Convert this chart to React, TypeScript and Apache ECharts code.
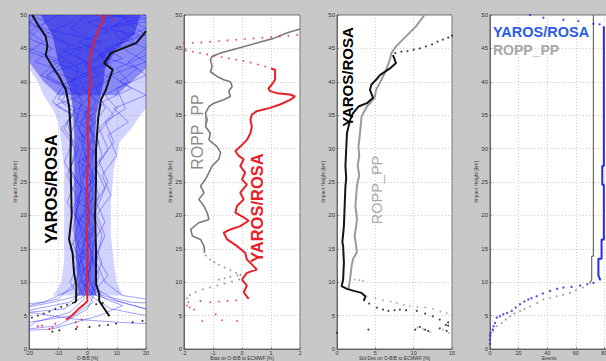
import React, { useEffect, useRef } from "react";
import * as echarts from "echarts";

// ---------- Panel 1: O-B/B [%] ----------
const p1MeanRed = [[6,50],[5.1,49],[3.4,47.3],[1.7,45.3],[0.9,43.5],[0.6,42.3],[1.1,39.8],[0.4,38.5],[0.6,37.3],[0.2,35],[0,32.3],[0.3,30],[0.2,28],[-0.2,25],[0,22.4],[0.2,20],[-0.3,17.4],[0.1,14],[-0.2,12],[0,10],[-0.2,8.5],[0,7.2],[-1.1,6.7],[-3.3,5.9],[-5.6,4.9],[-7.3,4.4]];
const p1RedDots = [[3,50],[4.5,49.8],[7,49.9],[8.6,49.4],[-15.5,3.5],[-12,3.2],[-11,3.8],[-13,3.0],[-17,3.4],[-4,4],[-2,4.4],[-3.5,3.3],[-1.5,6.5],[-2.5,6.2]];
const p1BlackLeft = [[-18.9,50],[-16.6,48.3],[-14.3,46.8],[-13.7,45.3],[-14.3,44],[-12,42.3],[-9.7,40.8],[-7.4,38.8],[-6.3,36.3],[-5.7,32.3],[-5.8,28],[-5.6,24],[-5.4,20],[-6.3,16.4],[-5.1,14.4],[-4.6,11.4],[-3.8,9.5],[-3.9,7.2],[-4.5,6.9]];
const p1BlackRight = [[20,47.6],[18,46.5],[16.6,45.8],[12,45],[8,44.3],[5.7,42.8],[8.6,41.8],[7.4,40.3],[6.3,38.8],[4.6,37.3],[3.7,34.8],[2.9,29.9],[2.9,24.9],[2.6,19.9],[2.9,14.9],[2.9,10.9],[3,9.7],[4,8.2],[4,7.2],[5.2,6.4],[7.5,4.9]];
const p1BlackDots = [[-5,6.9],[-7,6.6],[-9,6.3],[-11,6.0],[-13,5.6],[-15,5.3],[-17,5.0],[-19,4.7],[-9.6,2.8],[-3.9,3.0],[0.7,3.3],[4.1,3.5],[9.8,3.8],[15.4,4.0],[18.8,4.2],[3,6.7],[5.2,6.9],[-12,2.6],[7,3.6]];
const p1OuterBand = [[-20,50],[-20,42],[-17,40],[-15,38],[-12,36],[-10,34],[-9,31],[-8,27],[-8,22],[-8,17],[-8,13],[-9,10],[-11,8.5],[-12,8],[12,8],[10,10],[9,13],[8,17],[8,22],[9,27],[11,31],[15,33],[18,35],[20,36],[20,50]];
const p1TopBand = [[-20,50],[-20,43],[-15,40],[-10,38],[10,38],[15,40],[20,42],[20,50]];
const p1InnerBand = [[-16,50],[-12,47],[-11,45],[-10,43],[-8,41],[-6,39],[-5,36],[-4.5,32],[-4.5,25],[-4.5,18],[-4,14],[-3.5,10],[-3,8],[3,8],[3,10],[2.5,14],[2.3,20],[2.5,25],[2.5,30],[3,35],[4,37],[5.5,40],[6,42],[10,45],[16,47],[18,50]];
const blueProfiles = [
  [[-20,49],[-12,47],[-6,45.5],[-10,44],[-3,42],[-5,40],[-2,37],[-4,34],[-1,31],[-3,28],[-2,24],[-4,20],[-1,16],[-3,12],[-1,9],[-6,7],[-20,5.8]],
  [[15,50],[8,48],[12,46],[4,44],[9,42],[3,39],[6,36],[1,33],[3,30],[0,27],[2,23],[-1,19],[2,15],[0,11],[3,8],[20,6]],
  [[-20,45],[-8,43],[-14,41],[-6,39],[-9,37],[-3,35],[-6,32],[-4,29],[-7,26],[-3,22],[-5,18],[-2,14],[-4,10],[-10,7.5],[-20,6.5]],
  [[20,44],[10,42],[14,40],[6,38],[10,36],[4,33],[7,30],[3,27],[6,24],[2,20],[5,17],[3,13],[6,10],[12,8],[20,7.5]],
  [[-18,50],[-20,48.5],[-5,47],[5,46],[-8,44.5],[0,43],[-12,41.5],[-2,40],[-7,38],[0,36],[-3,33],[1,30],[-2,27],[1,24],[-1,21],[1,18],[-2,15],[1,12],[-1,9],[2,7],[-5,5],[-20,4]],
  [[20,49],[5,48],[18,47],[10,45.5],[20,43],[8,41],[15,39],[5,37],[9,35],[3,32],[5,29],[1,26],[4,23],[0,20],[3,17],[1,14],[4,11],[1,8],[8,6],[20,5]],
  [[-10,50],[-20,47.5],[-15,46],[-20,44.5],[-10,43],[-16,41],[-8,39.5],[-12,37],[-5,35],[-8,33],[-3,30],[-6,27],[-2,24],[-5,21],[-2,18],[-6,15],[-2,12],[-5,9],[-15,7],[-20,6.8]],
  [[10,50],[20,48],[12,46.5],[20,45],[14,43],[20,41],[10,39],[13,36],[6,34],[9,31],[4,28],[7,25],[3,22],[6,19],[2,16],[5,13],[2,10],[5,8],[15,7],[20,6.9]],
  [[0,50],[-6,48],[3,46],[-4,44],[2,42],[-6,40],[1,38],[-3,36],[2,34],[-2,31],[0,28],[-2,25],[1,22],[-3,19],[1,16],[-2,13],[0,10],[-1,8],[-8,6],[-20,5.5],[-5,4.5],[10,4],[20,3.8]],
  [[20,50],[13,49],[20,47],[6,45],[12,43.5],[2,42],[8,40.5],[0,38.5],[5,36.5],[-1,34],[4,31],[0,28],[3,25],[-1,22],[3,19],[0,16],[2,13],[-1,10],[2,8],[0,6],[-10,3.5],[-20,3]],
  [[-20,50],[-14,49],[-20,46.5],[-12,45],[-18,43],[-11,42],[-14,40.5],[-7,39],[-10,37.5],[-4,36],[-7,34],[-5,31],[-8,28],[-4,25],[-7,22],[-3,19],[-5,16],[-3,13],[-6,10],[-3,8],[-12,7],[-20,6.3]],
  [[5,50],[20,49.5],[9,48.5],[16,46],[4,44],[17,42],[11,40],[20,38],[9,36],[14,34],[7,32],[10,29],[5,26],[8,23],[3,20],[6,17],[3,14],[7,11],[3,9],[10,7.2],[20,6]],
  [[-5,49],[-15,47],[-2,45],[-12,43],[0,41],[-9,39.5],[-2,38],[-11,36.5],[-5,35],[-9,33],[-4,30],[-6,27],[-2,24],[-4,21],[-1,18],[-4,15],[-1,12],[-3,9.5],[-1,7.5],[-6,5.5],[-18,4],[-20,3.3]],
  [[12,50],[0,49],[7,47.5],[-3,46],[6,44],[-1,42.5],[4,41],[-2,39.5],[3,37],[-1,35],[2,32],[-1,29],[2,26],[-1,23],[1,20],[-1,17],[2,14],[0,11],[2,9],[6,7.5],[12,6.5],[4,5],[-12,3],[-20,2.8]],
  [[-2,36],[1,35],[-3,34],[0,33],[-2,32],[2,31],[-1,30],[1,29],[-3,28],[0,27],[-2,26],[2,25],[-1,24],[1,23],[-3,22],[0,21],[-2,20],[1,19],[-1,18],[2,17],[-2,16],[0,15],[-3,14],[1,13],[-1,12],[1,11],[-2,10],[0,9]],
  [[3,36],[-1,35.5],[2,34.5],[-2,33.5],[1,32.5],[-3,31.5],[0,30.5],[2,29.5],[-2,28.5],[1,27.5],[-1,26.5],[3,25.5],[0,24.5],[-2,23.5],[2,22.5],[-1,21.5],[1,20.5],[-3,19.5],[0,18.5],[2,17.5],[-1,16.5],[1,15.5],[-2,14.5],[2,13.5],[0,12.5],[-2,11.5],[1,10.5],[-1,9.5],[1,8.5]],
];

// ---------- Panel 2: Bias ----------
const p2GrayBias = [[2,47.9],[1.54,47.3],[1.09,46.5],[0.51,45.8],[-0.17,45],[-0.74,44.3],[-1.03,43.8],[-1.09,43.3],[-1.03,42.3],[-1.09,41.5],[-0.86,40.8],[-0.63,40.3],[-0.4,40],[-0.34,39.3],[-0.46,38.6],[-0.4,37.8],[-0.63,37.3],[-0.97,36.8],[-1.14,36.3],[-1.26,35.3],[-1.2,34.3],[-1.26,33.3],[-1.09,32.3],[-1.14,31.3],[-0.86,30.3],[-0.74,29.4],[-0.8,28.4],[-1.03,27.4],[-1.14,26.4],[-1.26,25.4],[-1.43,24.4],[-1.31,23.4],[-1.49,22.4],[-1.31,21.4],[-1.2,20.4],[-1.14,19.4],[-1.49,18.9],[-1.77,17.9],[-1.71,16.9],[-1.43,16.4],[-1.31,15.4],[-1.29,14.4]];
const p2GrayDots = [[-1.25,14],[-1.1,13.4],[-0.95,13],[-0.8,12.6],[-0.6,12.2],[-0.4,11.8],[-0.2,11.4],[-0.05,11.1],[-0.1,10.4],[-0.35,10.1],[-0.6,9.8],[-0.85,9.5],[-1.1,9.2],[-1.35,8.9],[-1.6,8.5],[-1.8,8.1],[-1.9,7.6],[-0.15,11],[-0.4,10.8],[-0.6,10.6],[-0.8,10.4]];
const p2RedBias = [[1.0,42.0],[1.14,41.8],[1.14,40.3],[1.03,39.6],[0.91,39],[0.97,38.6],[1.2,38.3],[1.66,38.1],[1.83,37.8],[1.66,37.3],[1.31,36.6],[0.97,36.1],[0.51,35.6],[0.34,35.1],[0.29,34.3],[0.34,33.3],[0.29,32.3],[0.17,31.3],[-0.06,30.3],[-0.23,29.6],[-0.11,28.9],[0.06,28.4],[-0.06,27.4],[0.11,26.4],[0,25.4],[0.17,24.6],[-0.06,23.4],[0.06,22.4],[-0.17,21.4],[-0.23,20.4],[0.06,19.7],[0.23,19.2],[-0.06,18.4],[-0.4,17.9],[-0.63,17.4],[-0.51,16.4],[-0.17,15.4],[0.11,14.4],[0.17,13.4],[0.4,12.4],[0.51,11.9],[0.17,11.4],[0,10.4],[0.17,9.5],[0.06,8.5],[0.23,7.5]];
const p2RedDots = [[-2,45.8],[-1.7,45.85],[-1.4,45.9],[-1.1,46.0],[-0.8,46.1],[-0.5,46.2],[-0.2,46.3],[0.1,46.4],[0.4,46.5],[0.7,46.6],[1.0,46.7],[1.3,46.8],[1.6,46.9],[1.9,47.0],[-1.94,44.7],[-1.7,44.5],[-1.45,44.3],[-1.2,44.1],[-0.95,43.9],[-0.7,43.7],[-0.45,43.5],[-0.2,43.3],[0.05,43.1],[0.3,42.9],[0.55,42.6],[0.8,42.3],[-1.85,7.0],[-1.43,7.2],[-1.1,7.0],[-0.8,7.1],[-0.5,7.2],[-0.2,7.3],[-1.9,6.5],[-1.8,6.2],[-1.65,5.9],[-0.91,5.2],[-1.37,4.2],[-0.69,4.3],[-0.17,4.2]];

// ---------- Panel 3: Std Dev ----------
const p3GrayStd = [[11.4,50],[10.3,48.3],[9,46.8],[7.7,45.3],[7.1,44.3],[6.9,43.3],[6.3,41.5],[5.8,40.3],[5.1,38.8],[4.9,37.6],[3.9,36.3],[3.2,34.8],[3,32.3],[2.8,30.3],[2.9,29],[2.7,27.4],[2.9,26],[2.6,24.4],[2.4,21.4],[2.6,19.5],[2.5,18.4],[2.3,17],[2.6,14.5],[2.1,13.5],[1.9,12.4],[1.7,10.4],[1.5,9]];
const p3BlackStd = [[7.3,44],[7.7,42.8],[6.9,42],[5.6,41],[5.1,40.3],[4.5,39.6],[4.3,38.8],[4.7,37.6],[3.9,36.8],[2.8,36.3],[2.1,35.3],[1.7,34.3],[1.3,32.3],[1.2,29.9],[1.1,27.4],[1.2,25.5],[1.1,24.4],[1,21.4],[0.9,18.4],[0.7,16],[0.8,15.4],[0.9,12.9],[0.8,10.4],[0.6,9.4],[1.3,9.0],[2.2,8.7],[3.2,8.4],[3.7,7.9],[3.5,7.2]];
const p3BlackDots = [[7.6,44.3],[8.4,44.5],[9.2,44.6],[10,44.8],[10.8,45],[11.6,45.3],[12.4,45.6],[13.1,46],[13.8,46.3],[14.5,46.6],[15,46.9],[4.2,6.8],[5.2,6.2],[6,5.9],[6.7,5.7],[7.5,5.8],[8.2,5.9],[9,5.8],[10.4,5.7],[11.5,5.3],[12.5,4.9],[13.4,4.4],[14.5,4.0],[0,2.4],[4.1,2.9],[10.2,2.9],[10.8,3.3],[11.5,2.9],[11.9,2.7],[13.4,3.1],[14.3,2.7],[14.5,3.5],[14.2,3.6]];
const p3GrayDots = [[3.9,7.9],[5,7.6],[6,7.3],[7,7.1],[7.8,6.9],[8.7,6.6],[9.5,6.4],[10.5,6.3],[11.5,6.2],[12.5,6.0],[13.5,5.6],[14.3,5.4],[15,5.2],[1.7,10.5],[2.3,10.4],[2.9,10.3],[3.4,10.2],[10.5,3.2],[11.2,3.0],[12.2,2.5],[13.8,2.9],[14.6,2.4]];

// ---------- Panel 4: Events ----------
const p4GrayStep = [[72.3,50],[72.3,13.9],[71.1,13.9],[71.1,10.4],[70,9.9]];
const p4GrayDots = [[70,9.9],[65,9.2],[60,8.8],[56,8.4],[51,8.1],[46.6,7.9],[42,7.6],[37.3,7.4],[33,6.9],[28,6.4],[24,6.0],[21,5.7],[17,5.3],[14,4.9],[11,4.4],[8.2,3.9],[4.7,3.4],[2.3,2.7],[0.5,1.9],[0,1.2],[0,0.5]];
const p4BlueStep = [[79.6,48.3],[79.6,27.4],[78.5,27.4],[78.5,24.6],[79.6,24.6],[79.6,16.4],[78,16.4],[78,13.5],[75.8,13.5],[75.8,11],[77,10.4]];
const p4BlueDots = [[77,10.4],[72.3,9.9],[68,9.7],[63,9.5],[57,9.3],[51.3,9.2],[47,9.0],[42,8.7],[37,8.3],[32.6,7.9],[29,7.6],[26.8,7.4],[24,7.1],[21,6.7],[18,6.2],[15.2,5.7],[12,5.4],[9.3,5.2],[7,4.9],[4.7,4.7],[3.5,3.9],[2.5,3.4],[1.9,2.9],[0.5,2.4],[0,2.0],[0,1.4],[0,0.8]];
const p4BlueTopDots = [[28,50],[37.3,49.6],[51.3,49.3],[61.8,49.1],[72.3,48.7],[76.6,48.6]];

const xAxisNames = ["O-B/B [%]", "Bias on O-B/B to ECMWF [%]", "Std Dev on O-B/B to ECMWF [%]", "Events"];
const xMins = [-20, -2, 0, 0];
const xMaxs = [20, 2, 15, 82.5];
const xIntervals = [10, 1, 5, 20];
const yTicks = [0, 50, 5];

const FONT = "'Liberation Sans', Arial, sans-serif";

export default function App() {
  const ref = useRef<HTMLDivElement>(null);
  useEffect(() => {
    if (!ref.current) return;
    const chart = echarts.init(ref.current, null, { renderer: "svg" });
    const grids = [
      { left: 29, top: 15, width: 117, height: 334 },
      { left: 184, top: 15, width: 116, height: 334 },
      { left: 337, top: 15, width: 115, height: 334 },
      { left: 490, top: 15, width: 118, height: 334 },
    ].map((g) => ({ ...g, show: true, backgroundColor: "#ffffff", borderColor: "#505050", borderWidth: 0.8, containLabel: false, outerBoundsMode: "none" }));

    const xAxis = xAxisNames.map((name, i) => ({
      type: "value", gridIndex: i, min: xMins[i], max: xMaxs[i], interval: xIntervals[i],
      name, nameLocation: "middle", nameGap: 7, nameMoveOverlap: false,
      nameTextStyle: { fontSize: 4.8, color: "#333", fontFamily: FONT, verticalAlign: "top" },
      axisLine: { show: true, onZero: false, lineStyle: { color: "#505050", width: 0.8 } },
      axisTick: { show: true, inside: true, length: 2, lineStyle: { color: "#505050", width: 0.6 } },
      axisLabel: { fontSize: 5.5, color: "#333", margin: 0.8, fontFamily: FONT, showMaxLabel: i !== 3 },
      splitLine: { show: true, lineStyle: { color: "#b8b8b8", width: 0.7, type: [1, 2] } },
    }));
    const yAxis = [0, 1, 2, 3].map((i) => ({
      type: "value", gridIndex: i, min: yTicks[0], max: yTicks[1], interval: yTicks[2],
      name: "Impact Height [km]", nameLocation: "middle", nameGap: 12, nameMoveOverlap: false,
      nameTextStyle: { fontSize: 5, color: "#444", fontFamily: FONT },
      axisLine: { show: true, onZero: false, lineStyle: { color: "#505050", width: 0.8 } },
      axisTick: { show: true, inside: true, length: 2, lineStyle: { color: "#505050", width: 0.6 } },
      axisLabel: { fontSize: 6, color: "#333", margin: 2, fontFamily: FONT },
      splitLine: { show: true, lineStyle: { color: "#b8b8b8", width: 0.7, type: [1, 2] } },
    }));

    const line = (data: number[][], ai: number, color: string, width: number, z = 3) => ({
      type: "line", xAxisIndex: ai, yAxisIndex: ai, data, showSymbol: false, symbol: "none",
      lineStyle: { color, width }, z, silent: true,
    });
    const dots = (data: number[][], ai: number, color: string, size: number, z = 4) => ({
      type: "scatter", xAxisIndex: ai, yAxisIndex: ai, data, symbol: "circle", symbolSize: size,
      itemStyle: { color }, z, silent: true,
    });
    const band = (pts: number[][], ai: number, fill: string, z: number) => ({
      type: "custom", xAxisIndex: ai, yAxisIndex: ai, data: [[0, 0]], clip: true, silent: true, z,
      renderItem: (_p: any, api: any) => ({
        type: "polygon",
        shape: { points: pts.map((p) => api.coord(p)) },
        style: { fill },
      }),
    });

    const series: any[] = [
      band(p1OuterBand, 0, "rgba(110,110,255,0.3)", 1),
      band(p1TopBand, 0, "rgba(50,50,235,0.45)", 1),
      band(p1InnerBand, 0, "rgba(30,30,220,0.55)", 1),
      ...blueProfiles.map((p) => line(p, 0, "rgba(40,40,255,0.55)", 0.8, 2)),
      line(p1BlackLeft, 0, "#111", 2),
      line(p1BlackRight, 0, "#111", 2),
      dots(p1BlackDots, 0, "#111", 2.2),
      line(p1MeanRed, 0, "#e8202a", 2),
      dots(p1RedDots, 0, "#e8202a", 2.2),

      line(p2GrayBias, 1, "#7a7a7a", 1.6),
      dots(p2GrayDots, 1, "#7a7a7a", 1.8),
      line(p2RedBias, 1, "#e8202a", 2),
      dots(p2RedDots, 1, "#e8202a", 1.8),

      line(p3GrayStd, 2, "#9a9a9a", 2),
      dots(p3GrayDots, 2, "#9a9a9a", 1.8),
      line(p3BlackStd, 2, "#151515", 2),
      dots(p3BlackDots, 2, "#151515", 2),

      line(p4GrayStep, 3, "#6a6a6a", 1.2),
      dots(p4GrayDots, 3, "#7a7a7a", 1.8),
      line(p4BlueStep, 3, "#2a2ae0", 2),
      dots(p4BlueDots, 3, "#2a2ae0", 2.4),
      dots(p4BlueTopDots, 3, "#2a2ae0", 2.4),
    ];

    const txt = (text: string, x: number, y: number, size: number, color: string, bold: boolean, rot: boolean, align = "center") => ({
      type: "text", x, y, rotation: rot ? Math.PI / 2 : 0, z: 100, silent: true,
      style: { text, fill: color, fontSize: size, fontWeight: bold ? "bold" : "normal", fontFamily: FONT, align, verticalAlign: "middle" },
    });

    chart.setOption({
      animation: false,
      backgroundColor: "#c8c8c8",
      grid: grids,
      xAxis,
      yAxis,
      series,
      graphic: [
        txt("YAROS/ROSA", 51, 189, 16.5, "#000", true, true),
        txt("ROPP_PP", 197, 132, 16, "#8c8c8c", false, true),
        txt("YAROS/ROSA", 257, 208, 16.5, "#e8202a", true, true),
        txt("YAROS/ROSA", 347, 77, 15, "#000", true, true),
        txt("ROPP_PP", 377, 190, 14.5, "#a8a8a8", false, true),
        txt("YAROS/ROSA", 493, 32, 14.5, "#2c5ce0", true, false, "left"),
        txt("ROPP_PP", 493, 50, 14, "#a8a8a8", true, false, "left"),
      ],
    });
    return () => chart.dispose();
  }, []);
  return <div ref={ref} style={{ position: "fixed", left: 0, top: 0, width: 606, height: 361 }} />;
}
